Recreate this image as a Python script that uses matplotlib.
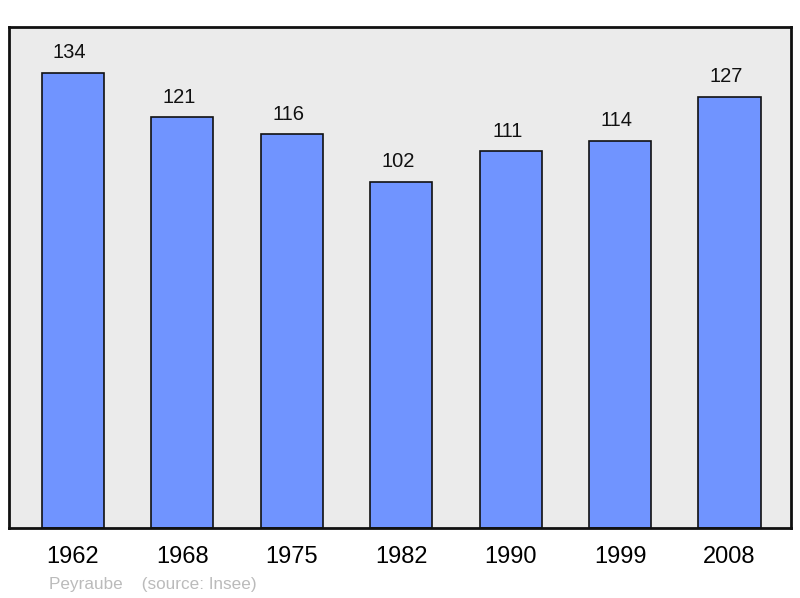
import matplotlib
matplotlib.use("Agg")
import matplotlib.pyplot as plt

years = ["1962", "1968", "1975", "1982", "1990", "1999", "2008"]
population = [134, 121, 116, 102, 111, 114, 127]

plt.rcParams['font.family'] = ['Liberation Sans', 'DejaVu Sans']

fig = plt.figure(figsize=(8, 5.98), dpi=100)
ax = fig.add_axes([9/800, 70/598, 782/800, 501/598])
ax.set_facecolor('#ebebeb')
x = list(range(len(years)))
ax.bar(x, population, width=0.567, color='#7094ff', edgecolor='#111111', linewidth=1.2)
for xi, v in zip(x, population):
    ax.annotate(str(v), (xi, v), xytext=(-2.5, 7.5), textcoords='offset points',
                ha='center', va='bottom', fontsize=14.5, color='#111111')
ax.set_xlim(-0.585, 6.562)
ax.set_ylim(0, 147.5)
ax.set_xticks(x)
ax.set_xticklabels(years, fontsize=17)
ax.tick_params(axis='x', length=0, pad=13)
ax.set_yticks([])
for s in ax.spines.values():
    s.set_linewidth(2)
    s.set_color('#111111')
fig.text(49/800, 1 - 584/598, "Peyraube    (source: Insee)", fontsize=12.3,
         color='#bbbbbb', ha='left', va='center')
fig.savefig("out.png", dpi=100)
